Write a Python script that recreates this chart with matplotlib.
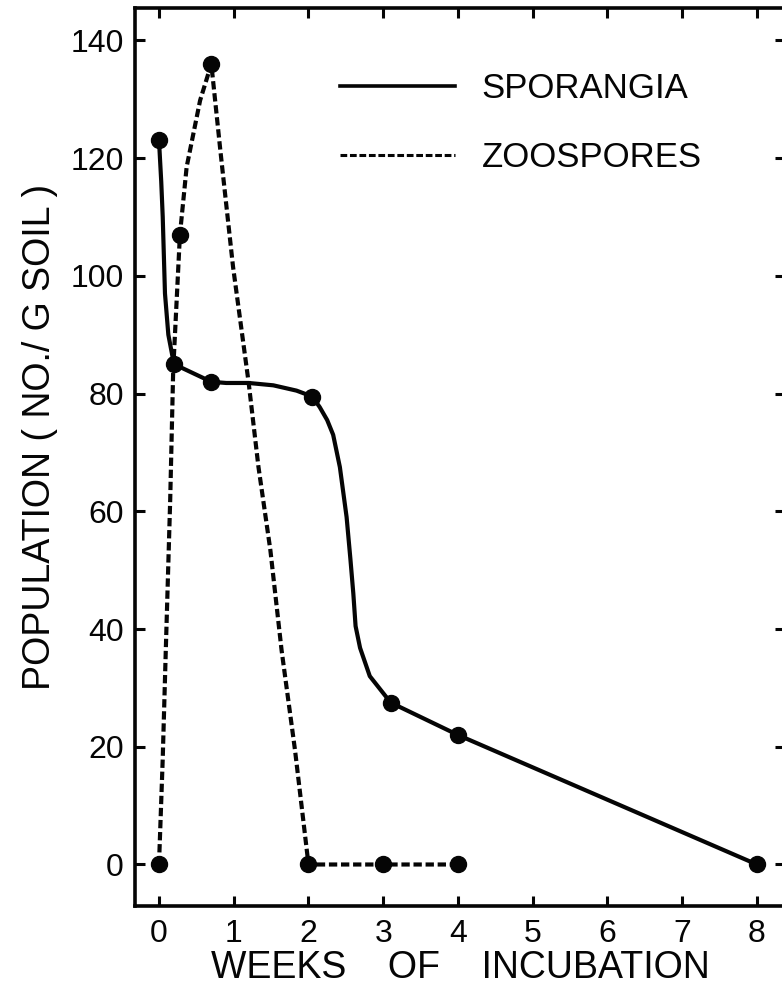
import matplotlib
matplotlib.use("Agg")
import matplotlib.pyplot as plt
from matplotlib.lines import Line2D

# ---- data ----
weeks_ticks = [0, 1, 2, 3, 4, 5, 6, 7, 8]
pop_ticks = [0, 20, 40, 60, 80, 100, 120, 140]

# measured points (markers)
sporangia_weeks = [0, 0.2, 0.7, 2.05, 3.1, 4, 8]
sporangia_pop = [123, 85, 82, 79.5, 27.5, 22, 0]

zoospore_weeks = [0, 0.28, 0.7, 2, 3, 4]
zoospore_pop = [0, 107, 136, 0, 0, 0]

# hand-drawn connecting curves
sporangia_curve_weeks = [0, 0.03, 0.05, 0.08, 0.125, 0.2, 0.7, 0.9, 1.2, 1.53, 1.84,
                         2.05, 2.15, 2.25, 2.33, 2.42, 2.51, 2.56, 2.6, 2.63, 2.69,
                         2.82, 3.1, 4, 8]
sporangia_curve_pop = [123, 116, 110, 97, 90, 85, 82, 81.8, 81.8, 81.4, 80.5,
                       79.5, 77.7, 75.5, 73, 67.5, 59, 52, 46, 40.5, 36.8,
                       32, 27.5, 22, 0]

zoospore_curve_weeks = [0, 0.05, 0.09, 0.15, 0.19, 0.28, 0.37, 0.55, 0.7, 0.82, 0.99,
                        1.2, 1.33, 1.49, 1.64, 1.82, 2, 3, 4]
zoospore_curve_pop = [0, 18, 36, 62, 84, 107, 118.5, 129.8, 136, 121.4, 101.6,
                      81.8, 67.6, 53.4, 36.4, 19.4, 0, 0, 0]

legend_labels = ["SPORANGIA", "ZOOSPORES"]

# ---- figure ----
plt.rcParams['font.family'] = ['Liberation Sans', 'DejaVu Sans']
W, H = 782, 998
fig = plt.figure(figsize=(W / 100, H / 100), dpi=100)
ax = fig.add_axes([135 / W, (H - 906) / H, 650 / W, 898 / H])

ink = '#050505'
dash = (0, (2.0, 0.9))

ax.plot(sporangia_curve_weeks, sporangia_curve_pop, color=ink, lw=3.0,
        solid_capstyle='round', solid_joinstyle='round')
ax.plot(zoospore_curve_weeks, zoospore_curve_pop, color=ink, lw=3.0, linestyle=dash)
ax.plot(sporangia_weeks, sporangia_pop, 'o', color=ink, markersize=11.5, zorder=5)
ax.plot(zoospore_weeks, zoospore_pop, 'o', color=ink, markersize=11.5, zorder=5)

ax.set_xlim(-0.321, 8.375)
ax.set_ylim(-7.05, 145.5)
ax.set_xticks(weeks_ticks)
ax.set_xticklabels([str(v) for v in weeks_ticks])
ax.set_yticks(pop_ticks)
ax.set_yticklabels([str(v) for v in pop_ticks])

for s in ax.spines.values():
    s.set_linewidth(2.6)
    s.set_color(ink)

ax.tick_params(axis='both', which='major', direction='in', length=7, width=2.2,
               labelsize=23, colors=ink, top=True, right=True)
ax.tick_params(axis='y', pad=8)
ax.tick_params(axis='x', pad=9)

ax.set_xlabel("WEEKS    OF    INCUBATION", fontsize=27, color=ink, labelpad=1)
ax.set_ylabel("POPULATION ( NO./ G SOIL )", fontsize=27, color=ink)
ax.yaxis.set_label_coords((58 - 135) / 650, (906 - 437) / 898)

handles = [Line2D([], [], color=ink, lw=2.6),
           Line2D([], [], color=ink, lw=2.2, linestyle=(0, (2.2, 0.9)))]
ax.legend(handles, legend_labels, loc='upper left',
          bbox_to_anchor=((340 - 135) / 650, (906 - 72) / 898),
          frameon=False, fontsize=25, handlelength=3.3, handletextpad=0.78,
          labelspacing=1.05, borderpad=0, borderaxespad=0, labelcolor=ink)

fig.savefig("out.png", dpi=100)
